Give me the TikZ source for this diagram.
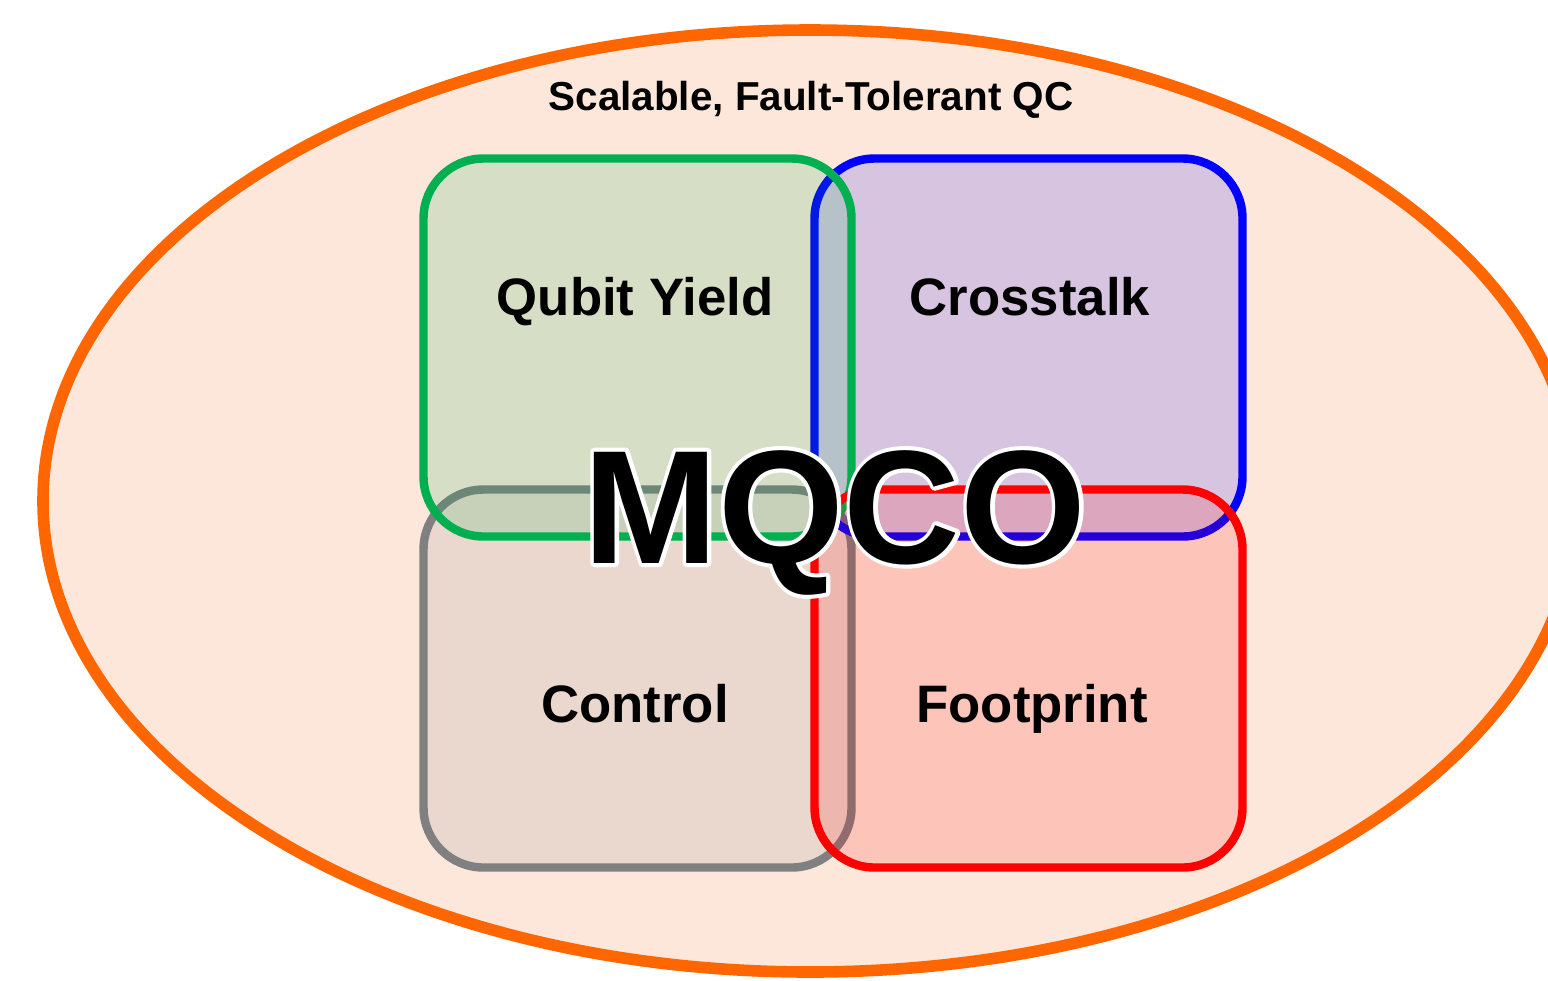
\documentclass[tikz,border=0pt]{standalone}
\usepackage{fontspec}
\setmainfont{Liberation Sans}
\definecolor{qcorange}{RGB}{255,102,0}
\definecolor{qcpeach}{RGB}{253,231,219}
\definecolor{yieldgreen}{RGB}{0,176,80}
\definecolor{xtalkblue}{RGB}{0,0,255}
\definecolor{ctrlgray}{RGB}{128,128,128}
\definecolor{fprintred}{RGB}{255,0,0}

\begin{document}
\begin{tikzpicture}[
    box/.style={rectangle, rounded corners=0.6cm, line width=2.4pt, minimum width=4.28cm, minimum height=3.78cm, fill opacity=0.15, draw opacity=1},
    lbl/.style={anchor=base, font=\bfseries\fontsize{15}{18}\selectfont}]
        \useasboundingbox (0,0) rectangle (15.48,9.8);
        \clip (0,0) rectangle (15.48,9.8);
        
        % outer goal
        \draw[line width=3.3pt, draw=qcorange, fill=qcpeach] (8.10,4.79) ellipse [x radius=7.67, y radius=4.71];
        \node[anchor=base, font=\bfseries\fontsize{11.5}{14}\selectfont] (goal) at (8.11,8.70) {Scalable, Fault-Tolerant QC};
        
        % four overlapping areas
        \node[box, draw=ctrlgray, fill=ctrlgray] (ctrl) at (6.375,3.015) {};
        \node[box, draw=xtalkblue, fill=xtalkblue] (xtalk) at (10.285,6.325) {};
        \node[box, draw=yieldgreen, fill=yieldgreen] (yield) at (6.375,6.325) {};
        \node[box, draw=fprintred, fill=fprintred] (fprint) at (10.285,3.015) {};
        
        \node[lbl] (yieldtxt) at (6.35,6.65) {Qubit Yield};
        \node[lbl] (xtalktxt) at (10.30,6.65) {Crosstalk};
        \node[lbl] (ctrltxt) at (6.35,2.58) {Control};
        \node[lbl] (fprinttxt) at (10.32,2.58) {Footprint};
        
        % white rim under the big word
        \node[anchor=base, text=white, line join=round, font=\bfseries\fontsize{46}{50}\selectfont\addfontfeature{FakeBold=5}] (mqcorim) at (8.35,4.17) {\special{pdf:code 1 j}MQCO};
        \node[anchor=base, font=\bfseries\fontsize{46}{50}\selectfont] (mqco) at (8.35,4.17) {MQCO};
    \end{tikzpicture}
\end{document}
